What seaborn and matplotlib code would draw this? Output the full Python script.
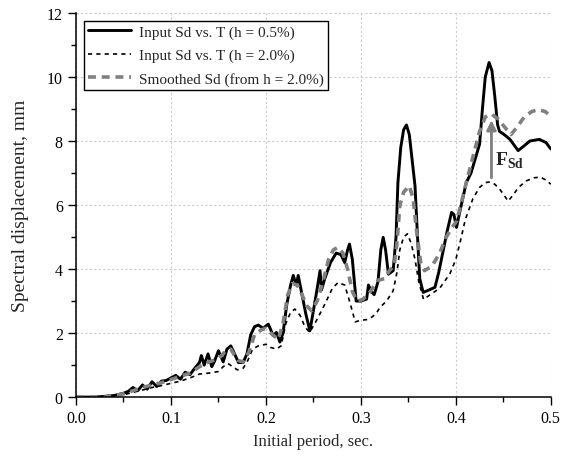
#---------------------------------------------------------------
# Spectral displacement vs. initial period
#---------------------------------------------------------------
import matplotlib
matplotlib.use('Agg')
import matplotlib.pyplot as plt
import seaborn as sns
from matplotlib.ticker import MultipleLocator


#---------------------------------------------------------------
# input Sd, h = 0.5%
period_h05 = [0.0, 0.02, 0.04, 0.05, 0.055, 0.06, 0.065, 0.07, 0.075, 0.08, 0.085, 0.09,
              0.095, 0.1, 0.105, 0.11, 0.115, 0.12, 0.125, 0.13, 0.132, 0.135, 0.139, 0.143,
              0.146, 0.15, 0.155, 0.159, 0.163, 0.167, 0.171, 0.176, 0.18, 0.184, 0.188,
              0.192, 0.197, 0.2025, 0.2077, 0.211, 0.2147, 0.218, 0.222, 0.226, 0.2288,
              0.232, 0.234, 0.238, 0.242, 0.2463, 0.25, 0.254, 0.257, 0.2586, 0.262, 0.268,
              0.274, 0.279, 0.283, 0.286, 0.288, 0.291, 0.295, 0.3, 0.306, 0.308, 0.311,
              0.314, 0.318, 0.321, 0.3235, 0.326, 0.329, 0.334, 0.337, 0.339, 0.342, 0.345,
              0.348, 0.351, 0.354, 0.357, 0.36, 0.362, 0.3656, 0.372, 0.378, 0.382, 0.387,
              0.391, 0.3955, 0.398, 0.4007, 0.405, 0.411, 0.416, 0.421, 0.425, 0.428, 0.431,
              0.435, 0.438, 0.441, 0.444, 0.446, 0.45, 0.453, 0.457, 0.4656, 0.472, 0.478,
              0.488, 0.495, 0.5]
sd_h05 = [0.0, 0.0, 0.05, 0.12, 0.18, 0.3, 0.2, 0.38, 0.25, 0.48, 0.33, 0.5,
          0.52, 0.6, 0.68, 0.56, 0.78, 0.7, 0.9, 1.08, 1.3, 1.0, 1.35, 0.95,
          1.13, 1.45, 1.1, 1.5, 1.6, 1.35, 1.08, 1.08, 1.35, 1.95, 2.2,
          2.25, 2.15, 2.28, 1.92, 2.02, 1.72, 2.0, 2.9, 3.5, 3.8,
          3.5, 3.8, 3.2, 2.6, 2.07, 2.7, 3.4, 3.95, 3.35, 3.7, 4.2,
          4.5, 4.45, 4.2, 4.6, 4.78, 4.3, 3.0, 3.0, 3.06, 3.5, 3.3,
          3.2, 3.6, 4.6, 4.99, 4.6, 3.84, 3.95, 5.0, 6.7, 7.8, 8.35,
          8.5, 8.2, 7.4, 6.6, 4.8, 3.7, 3.27, 3.35, 3.43, 3.9, 4.62,
          5.2, 5.77, 5.7, 5.3, 5.9, 6.7, 7.0, 7.5, 7.9, 9.0, 10.0,
          10.45, 10.2, 9.4, 8.5, 8.3, 8.22, 8.15, 8.05, 7.7, 7.85, 8.0,
          8.05, 7.95, 7.75]

# input Sd, h = 2.0%
period_h20 = [0.0, 0.03, 0.04, 0.05, 0.06, 0.07, 0.08, 0.09, 0.1, 0.11, 0.12, 0.13,
              0.14, 0.15, 0.155, 0.16, 0.165, 0.17, 0.176, 0.181, 0.186, 0.192, 0.2,
              0.205, 0.211, 0.216, 0.221, 0.226, 0.2305, 0.236, 0.241, 0.246, 0.253,
              0.262, 0.27, 0.276, 0.283, 0.289, 0.294, 0.3, 0.306, 0.311, 0.316, 0.32,
              0.327, 0.334, 0.338, 0.341, 0.345, 0.349, 0.353, 0.357, 0.361, 0.366,
              0.373, 0.383, 0.3937, 0.4, 0.405, 0.41, 0.418, 0.425, 0.431, 0.436, 0.441,
              0.446, 0.451, 0.455, 0.46, 0.466, 0.474, 0.482, 0.489, 0.495, 0.5]
sd_h20 = [0.0, 0.0, 0.02, 0.07, 0.15, 0.22, 0.3, 0.36, 0.43, 0.5, 0.6, 0.72,
          0.75, 0.8, 0.95, 1.05, 0.95, 0.85, 0.9, 1.15, 1.5, 1.6, 1.65,
          1.55, 1.5, 1.6, 2.3, 2.65, 2.75, 2.55, 2.2, 2.02, 2.38,
          2.9, 3.4, 3.58, 3.5, 2.9, 2.35, 2.4, 2.42, 2.49, 2.6, 2.8,
          3.0, 3.32, 3.9, 4.6, 5.0, 5.1, 4.8, 4.3, 3.6, 3.05,
          3.2, 3.4, 3.85, 4.3, 4.9, 5.55, 6.2, 6.55, 6.7, 6.72, 6.65,
          6.5, 6.3, 6.12, 6.3, 6.55, 6.75, 6.85, 6.87, 6.78, 6.65]

# smoothed Sd (from h = 2.0%)
period_smooth = [0.0, 0.03, 0.05, 0.06, 0.07, 0.08, 0.09, 0.1, 0.11, 0.12, 0.13, 0.14,
                 0.15, 0.158, 0.163, 0.17, 0.176, 0.182, 0.188, 0.195, 0.2, 0.207,
                 0.213, 0.218, 0.223, 0.228, 0.233, 0.238, 0.243, 0.248, 0.254, 0.26,
                 0.266, 0.271, 0.276, 0.281, 0.286, 0.291, 0.296, 0.302, 0.31, 0.318,
                 0.325, 0.33, 0.335, 0.338, 0.341, 0.345, 0.351, 0.355, 0.359, 0.363,
                 0.367, 0.375, 0.383, 0.39, 0.396, 0.401, 0.406, 0.411, 0.418, 0.425,
                 0.431, 0.437, 0.444, 0.451, 0.458, 0.465, 0.472, 0.48, 0.487, 0.494, 0.5]
sd_smooth = [0.0, 0.0, 0.1, 0.2, 0.3, 0.38, 0.45, 0.55, 0.65, 0.75, 0.95, 1.1,
             1.2, 1.45, 1.5, 1.15, 1.1, 1.4, 1.95, 2.1, 2.15, 1.95,
             1.8, 2.3, 3.2, 3.55, 3.5, 3.2, 2.85, 2.7, 3.0, 3.6,
             4.3, 4.6, 4.68, 4.5, 4.0, 3.3, 3.0, 3.05, 3.3, 3.65,
             3.7, 3.95, 4.1, 4.8, 5.98, 6.4, 6.6, 6.2, 5.1, 4.2,
             3.95, 4.1, 4.5, 5.0, 5.3, 5.5, 6.1, 6.7, 7.5, 8.3,
             8.75, 8.85, 8.7, 8.45, 8.2, 8.45, 8.75, 8.92, 8.98, 8.92, 8.78]

# F_Sd arrow (period, from, to)
arrow_period = 0.4375
arrow_sd = [6.85, 8.65]


#---------------------------------------------------------------
def main():
    sns.set_theme(style = 'ticks')
    plt.rcParams['font.family'] = ['Liberation Serif', 'DejaVu Serif']
    plt.rcParams['mathtext.fontset'] = 'custom'
    plt.rcParams['mathtext.rm'] = 'Liberation Serif'
    plt.rcParams['mathtext.bf'] = 'Liberation Serif:bold'
    fs = 11.5

    fig = plt.figure(figsize = (5.69, 4.64), dpi = 100)
    ax = fig.add_axes([0.1336, 0.142, 0.8344, 0.828])

    sns.lineplot(x = period_h05, y = sd_h05, ax = ax, color = 'black', lw = 2.1,
                 estimator = None, sort = False, label = 'Input Sd vs. T (h = 0.5%)')
    sns.lineplot(x = period_h20, y = sd_h20, ax = ax, color = 'black', lw = 1.2,
                 estimator = None, sort = False, dashes = False,
                 label = 'Input Sd vs. T (h = 2.0%)')
    sns.lineplot(x = period_smooth, y = sd_smooth, ax = ax, color = '#808080', lw = 2.6,
                 estimator = None, sort = False, label = 'Smoothed Sd (from h = 2.0%)')
    ax.lines[1].set_dashes([2.5, 2.5])
    ax.lines[2].set_dashes([2.2, 1.6])

    ax.annotate('', xy = (arrow_period, arrow_sd[1]), xytext = (arrow_period, arrow_sd[0]),
                arrowprops = dict(arrowstyle = '-|>', color = '#808080', lw = 2.0,
                                  mutation_scale = 14, shrinkA = 0, shrinkB = 0))
    ax.text(0.4415, 7.4, r'$\mathbf{F}_{\mathbf{Sd}}$', fontsize = 14,
            ha = 'left', va = 'center')

    ax.set_xlim(0, 0.5)
    ax.set_ylim(0, 12)
    ax.xaxis.set_major_locator(MultipleLocator(0.1))
    ax.xaxis.set_minor_locator(MultipleLocator(0.05))
    ax.yaxis.set_major_locator(MultipleLocator(2))
    ax.yaxis.set_minor_locator(MultipleLocator(1))
    ax.set_xticklabels([f'{v:.1f}' for v in ax.get_xticks()])
    ax.tick_params(which = 'major', direction = 'out', length = 6, width = 1,
                   labelsize = fs, color = 'black', labelcolor = 'black', pad = 3.5)
    ax.tick_params(which = 'minor', direction = 'out', length = 3.5, width = 1,
                   color = 'black')
    ax.grid(True, which = 'major', ls = (0, (2, 2)), color = '#cccccc', lw = 0.8)
    ax.set_axisbelow(True)
    for side in ['top', 'right']:
        ax.spines[side].set_visible(False)
    for side in ['left', 'bottom']:
        ax.spines[side].set_color('black')
        ax.spines[side].set_linewidth(1.1)

    ax.set_xlabel('Initial period, sec.', fontsize = 12)
    ax.set_ylabel('Spectral displacement, mm', fontsize = 14)
    ax.xaxis.set_label_coords(0.5, -0.093)
    ax.yaxis.set_label_coords(-0.10, 0.5)

    leg = ax.legend(loc = 'upper left', fontsize = 11, frameon = True, fancybox = False,
                    framealpha = 1, edgecolor = 'black', handlelength = 2.8,
                    handletextpad = 0.5, labelspacing = 0.62, borderaxespad = 0.5,
                    borderpad = 0.3)
    leg.get_frame().set_linewidth(1.0)

    fig.savefig('out.png', dpi = 100)


#---------------------------------------------------------------
if __name__ == '__main__':
    main()
